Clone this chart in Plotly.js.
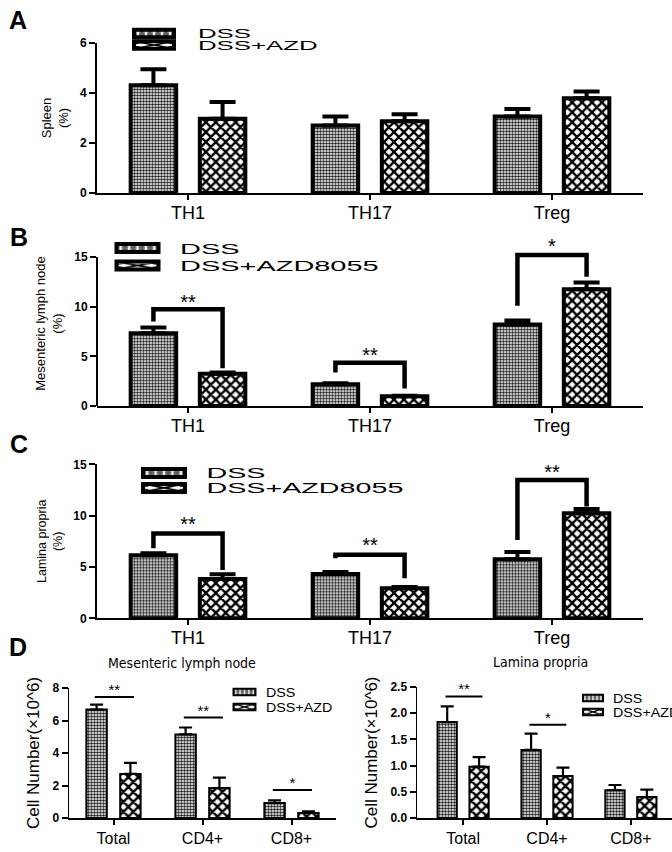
<!DOCTYPE html>
<html><head><meta charset="utf-8">
<script src="https://cdn.plot.ly/plotly-3.0.1.min.js"></script>
<style>
html,body{margin:0;padding:0;background:#fff;overflow:hidden;}
#chart{width:672px;height:852px;}
.infolayer g.scrollbox{clip-path:none !important;}
.infolayer g.legendpoints path{vector-effect:non-scaling-stroke;}
.infolayer .legend text,.infolayer .legend2 text,.infolayer .legend3 text,.infolayer .legend4 text,.infolayer .legend5 text,
.infolayer .legend6 text,.infolayer .legend7 text,.infolayer .legend8 text,.infolayer .legend9 text,.infolayer .legend10 text{transform-box:fill-box;transform-origin:left center;}
.infolayer .legend g.legendpoints path,.infolayer .legend2 g.legendpoints path{transform:translate(44px,0px) scale(3.33,0.62);}
.infolayer .legend text,.infolayer .legend2 text{transform:scaleX(2.15);}
.infolayer .legend3 g.legendpoints path,.infolayer .legend4 g.legendpoints path,.infolayer .legend5 g.legendpoints path,.infolayer .legend6 g.legendpoints path{transform:translate(42.5px,0px) scale(3.5,0.67);}
.infolayer .legend3 text,.infolayer .legend4 text{transform:scaleX(1.93);}
.infolayer .legend5 text,.infolayer .legend6 text{transform:scaleX(2.05);}
.infolayer .legend7 g.legendpoints path,.infolayer .legend8 g.legendpoints path{transform:translate(21.5px,0px) scale(1.83,0.55);}
.infolayer .legend9 g.legendpoints path,.infolayer .legend10 g.legendpoints path{transform:translate(20px,0px) scale(1.67,0.55);}
.infolayer .legend7 text,.infolayer .legend8 text,.infolayer .legend9 text,.infolayer .legend10 text{transform:scaleX(1.1);}
</style>
</head><body><div id="chart"></div>
<script>
// ---------------- data ----------------
const cellTypes = ['TH1', 'TH17', 'Treg'];
const cellGroups = ['Total', 'CD4+', 'CD8+'];
const nameDSS = 'DSS';
const nameAZDshort = 'DSS+AZD';
const nameAZDlong = 'DSS+AZD8055';

// A: Spleen (%)
const spleenDSS = [4.31, 2.70, 3.06];
const spleenDSSsem = [0.64, 0.36, 0.30];
const spleenAZD = [2.97, 2.87, 3.79];
const spleenAZDsem = [0.67, 0.28, 0.27];
const spleenTicks = [0, 2, 4, 6];

// B: Mesenteric lymph node (%)
const mlnDSS = [7.33, 2.18, 8.20];
const mlnDSSsem = [0.57, 0.10, 0.40];
const mlnAZD = [3.25, 0.97, 11.75];
const mlnAZDsem = [0.13, 0.07, 0.67];
const mlnBracketLeft = [8.5, 3.38, 10.1];
const mlnBracketTop = [9.74, 4.35, 15.2];
const mlnBracketRight = [3.8, 1.77, 13.0];
const mlnStarY = [10.3, 4.95, 15.9];
const mlnStars = ['**', '**', '*'];
const pctTicks = [0, 5, 10, 15];

// C: Lamina propria (%)
const lpDSS = [6.14, 4.32, 5.75];
const lpDSSsem = [0.19, 0.19, 0.71];
const lpAZD = [3.83, 2.92, 10.23];
const lpAZDsem = [0.46, 0.13, 0.42];
const lpBracketLeft = [6.82, 5.84, 7.63];
const lpBracketTop = [8.25, 6.2, 13.47];
const lpBracketRight = [4.71, 3.9, 10.9];
const lpStarY = [9.0, 6.9, 14.1];
const lpStars = ['**', '**', '**'];

// D left: Mesenteric lymph node cell number (x10^6)
const cntMlnDSS = [6.67, 5.14, 0.92];
const cntMlnDSSsem = [0.31, 0.43, 0.16];
const cntMlnAZD = [2.71, 1.84, 0.31];
const cntMlnAZDsem = [0.68, 0.65, 0.10];
const cntMlnSigY = [7.45, 6.18, 1.73];
const cntMlnStarY = [7.8, 6.5, 2.05];
const cntMlnStars = ['**', '**', '*'];
const cntMlnTicks = [0, 2, 4, 6, 8];

// D right: Lamina propria cell number (x10^6)
const cntLpDSS = [1.83, 1.30, 0.53];
const cntLpDSSsem = [0.30, 0.31, 0.10];
const cntLpAZD = [0.98, 0.80, 0.40];
const cntLpAZDsem = [0.18, 0.16, 0.14];
const cntLpSigY = [2.32, 1.78, null];
const cntLpStarY = [2.43, 1.88, null];
const cntLpStars = ['**', '*', ''];
const cntLpTicks = [0, 0.5, 1.0, 1.5, 2.0, 2.5];
const cntLpTickText = ['0.0', '0.5', '1.0', '1.5', '2.0', '2.5'];

// ---------------- styling ----------------
const W = 672, H = 852;
const FONT = 'Liberation Sans, Arial, sans-serif';
const NARROW = 'Liberation Sans Narrow, DejaVu Sans Condensed, Liberation Sans, sans-serif';
const HALF = 0.19;       // centre offset of each bar from its category
const px = p => p / W;
const py = p => 1 - p / H;

const patDSS = {shape: '.', size: 3, solidity: 0.55, fgcolor: '#222222', bgcolor: '#ffffff', fillmode: 'replace'};
const patAZD = {shape: 'x', size: 7, solidity: 0.55, fgcolor: '#000000', bgcolor: '#ffffff', fillmode: 'replace'};

const idx = cellTypes.map((_, i) => i);

function barTrace(xa, ya, vals, sem, name, pat, side, bw, lw, ew, et, legend) {
  return {
    type: 'bar', xaxis: xa, yaxis: ya, x: idx, y: vals, name: name,
    width: bw, offset: side * HALF - bw / 2,
    marker: {color: '#ffffff', pattern: pat, line: {color: '#000', width: lw}},
    error_y: {type: 'data', symmetric: false, array: sem, arrayminus: vals.map(() => 0),
              color: '#000', thickness: et, width: ew},
    legend: legend, showlegend: true, hoverinfo: 'skip'
  };
}

function bracketTrace(xa, ya, left, top, right, lw) {
  const xs = [], ys = [];
  idx.forEach(i => {
    xs.push(i - HALF, i - HALF, i + HALF, i + HALF, null);
    ys.push(left[i], top[i], top[i], right[i], null);
  });
  return {type: 'scatter', mode: 'lines', xaxis: xa, yaxis: ya, x: xs, y: ys,
          line: {color: '#000', width: lw}, showlegend: false, hoverinfo: 'skip'};
}
function sigLineTrace(xa, ya, yv, lw) {
  const xs = [], ys = [];
  idx.forEach(i => {
    if (yv[i] == null) return;
    xs.push(i - HALF - 0.02, i + HALF + 0.04, null);
    ys.push(yv[i], yv[i], null);
  });
  return {type: 'scatter', mode: 'lines', xaxis: xa, yaxis: ya, x: xs, y: ys,
          line: {color: '#000', width: lw}, showlegend: false, hoverinfo: 'skip'};
}
function starTrace(xa, ya, ys, stars, size, shift) {
  return {type: 'scatter', mode: 'text', xaxis: xa, yaxis: ya,
          x: idx.map(i => i + (shift || 0)), y: ys, text: stars, textposition: 'middle center',
          textfont: {size: size, color: '#000', family: FONT}, cliponaxis: false,
          showlegend: false, hoverinfo: 'skip'};
}

const data = [
  // A
  barTrace('x', 'y', spleenDSS, spleenDSSsem, nameDSS, patDSS, -1, 0.25, 4, 13, 4, 'legend'),
  barTrace('x', 'y', spleenAZD, spleenAZDsem, nameAZDshort, patAZD, 1, 0.25, 4, 13, 4, 'legend2'),
  // B
  barTrace('x2', 'y2', mlnDSS, mlnDSSsem, nameDSS, patDSS, -1, 0.25, 4, 13, 4, 'legend3'),
  barTrace('x2', 'y2', mlnAZD, mlnAZDsem, nameAZDlong, patAZD, 1, 0.25, 4, 13, 4, 'legend4'),
  bracketTrace('x2', 'y2', mlnBracketLeft, mlnBracketTop, mlnBracketRight, 4.5),
  starTrace('x2', 'y2', mlnStarY, mlnStars, 20),
  // C
  barTrace('x3', 'y3', lpDSS, lpDSSsem, nameDSS, patDSS, -1, 0.25, 4, 13, 4, 'legend5'),
  barTrace('x3', 'y3', lpAZD, lpAZDsem, nameAZDlong, patAZD, 1, 0.25, 4, 13, 4, 'legend6'),
  bracketTrace('x3', 'y3', lpBracketLeft, lpBracketTop, lpBracketRight, 4.5),
  starTrace('x3', 'y3', lpStarY, lpStars, 20),
  // D left
  barTrace('x4', 'y4', cntMlnDSS, cntMlnDSSsem, nameDSS, patDSS, -1, 0.23, 2, 6.5, 2.2, 'legend7'),
  barTrace('x4', 'y4', cntMlnAZD, cntMlnAZDsem, nameAZDshort, patAZD, 1, 0.23, 2, 6.5, 2.2, 'legend8'),
  sigLineTrace('x4', 'y4', cntMlnSigY, 2),
  starTrace('x4', 'y4', cntMlnStarY, cntMlnStars, 15, 0.01),
  // D right
  barTrace('x5', 'y5', cntLpDSS, cntLpDSSsem, nameDSS, patDSS, -1, 0.23, 2, 6.5, 2.2, 'legend9'),
  barTrace('x5', 'y5', cntLpAZD, cntLpAZDsem, nameAZDshort, patAZD, 1, 0.23, 2, 6.5, 2.2, 'legend10'),
  sigLineTrace('x5', 'y5', cntLpSigY, 2),
  starTrace('x5', 'y5', cntLpStarY, cntLpStars, 15, 0.01)
];

function xAxis(dom, range, labels, anchor, fs, lw, standoff) {
  return {domain: dom, range: range, anchor: anchor, tickmode: 'array', tickvals: idx, ticktext: labels,
          showline: true, linewidth: lw, linecolor: '#000', ticks: 'outside', ticklen: 5, tickwidth: 2,
          tickcolor: '#000', showgrid: false, zeroline: false, fixedrange: true, ticklabelstandoff: standoff,
          tickfont: {size: fs, family: FONT, color: '#000'}};
}
function yAxis(dom, range, tv, tt, anchor, title, tfs, showline, lw) {
  return {domain: dom, range: range, anchor: anchor, tickmode: 'array', tickvals: tv, ticktext: tt,
          showline: showline, linewidth: lw, linecolor: '#000', ticks: 'outside', ticklen: 6, tickwidth: 2,
          tickcolor: '#000', showgrid: false, zeroline: false, fixedrange: true,
          tickfont: {size: 12, family: FONT, color: '#000', weight: 'bold'},
          title: {text: title, font: {size: tfs, family: FONT, color: '#000'}, standoff: 8}};
}

function legendAt(L, yc, iw, fs) {
  return {x: px(L), y: py(yc), xanchor: 'left', yanchor: 'middle', xref: 'paper', yref: 'paper',
          bgcolor: 'rgba(0,0,0,0)', borderwidth: 0, itemwidth: iw, tracegroupgap: 0,
          font: {size: fs, family: FONT, color: '#000'}, itemclick: false, itemdoubleclick: false};
}

const layout = {
  width: W, height: H, margin: {l: 0, r: 0, t: 0, b: 0, pad: 0, autoexpand: false},
  paper_bgcolor: '#fff', plot_bgcolor: 'rgba(0,0,0,0)', barmode: 'overlay', showlegend: true,
  font: {family: FONT, color: '#000'},
  xaxis: xAxis([px(97), px(643)], [-0.5, 2.5], cellTypes, 'y', 18, 2, -3),
  yaxis: yAxis([py(193), py(43)], [0, 6], spleenTicks, spleenTicks.map(String), 'x', 'Spleen<br>(%)', 13, true, 2),
  xaxis2: xAxis([px(97), px(643)], [-0.5, 2.5], cellTypes, 'y2', 18, 2, -3),
  yaxis2: yAxis([py(406), py(241.1)], [0, 16.6], pctTicks, pctTicks.map(String), 'x2', 'Mesenteric lymph node<br>(%)', 13, false, 2),
  xaxis3: xAxis([px(97), px(643)], [-0.5, 2.5], cellTypes, 'y3', 18, 2, -3),
  yaxis3: yAxis([py(618.3), py(464.3)], [0, 15], pctTicks, pctTicks.map(String), 'x3', 'Lamina propria<br>(%)', 12.5, true, 2),
  xaxis4: xAxis([px(69), px(336)], [-0.5, 2.5], cellGroups, 'y4', 16, 1.5, 0),
  yaxis4: yAxis([py(818), py(688)], [0, 8], cntMlnTicks, cntMlnTicks.map(String), 'x4', 'Cell Number(×10^6)', 17, true, 1.5),
  xaxis5: xAxis([px(417), px(672)], [-0.55, 2.49], cellGroups, 'y5', 16, 1.5, 0),
  yaxis5: yAxis([py(818), py(687)], [0, 2.5], cntLpTicks, cntLpTickText, 'x5', 'Cell Number(×10^6)', 17, true, 1.5),
  legend: legendAt(110, 33.5, 78, 12),
  legend2: legendAt(110, 45, 78, 12),
  legend3: legendAt(95, 248.3, 75, 15),
  legend4: legendAt(95, 265.7, 75, 15),
  legend5: legendAt(121.5, 473.3, 75, 14),
  legend6: legendAt(121.5, 488.3, 75, 14),
  legend7: legendAt(223, 692, 33, 13),
  legend8: legendAt(223, 707, 33, 13),
  legend9: legendAt(573, 698, 30, 13),
  legend10: legendAt(573, 712, 30, 13),
  shapes: [
    // y-axis line of panel B stops at 15 while the plot area extends above for the bracket
    {type: 'line', xref: 'x2 domain', yref: 'y2', x0: 0, x1: 0, y0: 0, y1: pctTicks[pctTicks.length - 1],
     line: {color: '#000', width: 2}, layer: 'above'}
  ],
  annotations: [
    {text: 'A', x: px(7), y: py(20), xref: 'paper', yref: 'paper', xanchor: 'left', yanchor: 'middle', showarrow: false, font: {size: 25, family: FONT, weight: 'bold'}},
    {text: 'B', x: px(8), y: py(237), xref: 'paper', yref: 'paper', xanchor: 'left', yanchor: 'middle', showarrow: false, font: {size: 25, family: FONT, weight: 'bold'}},
    {text: 'C', x: px(8), y: py(444), xref: 'paper', yref: 'paper', xanchor: 'left', yanchor: 'middle', showarrow: false, font: {size: 25, family: FONT, weight: 'bold'}},
    {text: 'D', x: px(7), y: py(647), xref: 'paper', yref: 'paper', xanchor: 'left', yanchor: 'middle', showarrow: false, font: {size: 25, family: FONT, weight: 'bold'}},
    {text: 'Mesenteric lymph node', x: px(182), y: py(663), xref: 'paper', yref: 'paper', xanchor: 'center', yanchor: 'middle', showarrow: false, font: {size: 14, family: NARROW}},
    {text: 'Lamina propria', x: px(540), y: py(662), xref: 'paper', yref: 'paper', xanchor: 'center', yanchor: 'middle', showarrow: false, font: {size: 14, family: NARROW}}
  ]
};

Plotly.newPlot('chart', data, layout, {staticPlot: true, displayModeBar: false});
</script>
</body></html>
